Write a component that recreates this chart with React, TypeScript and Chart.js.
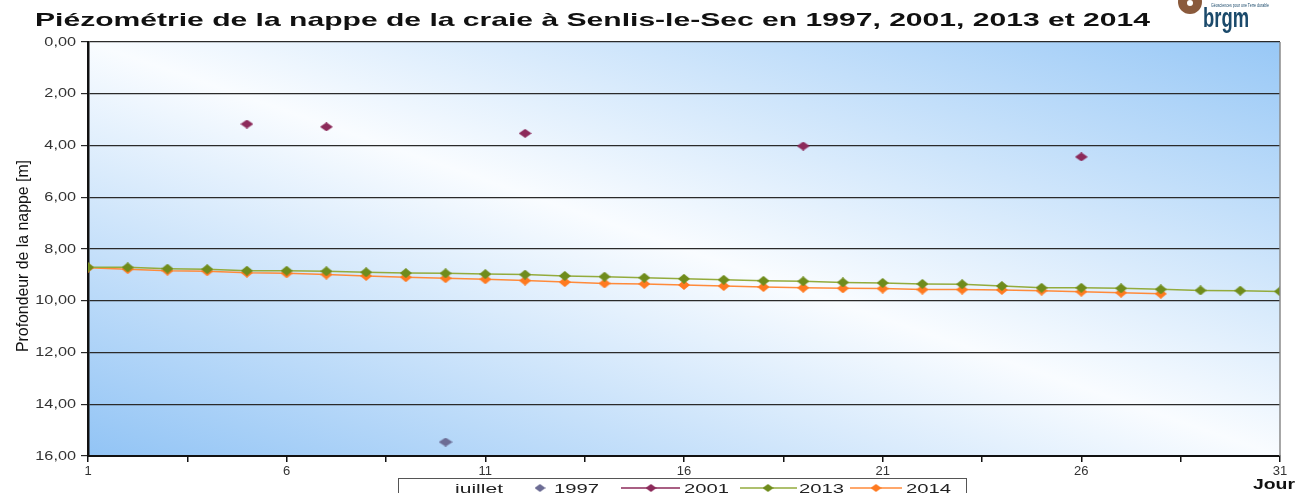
import React, { useEffect, useRef } from "react";
import { Chart, registerables } from "chart.js";

Chart.register(...registerables);

const TITLE = "Piézométrie de la nappe de la craie à Senlis-le-Sec en 1997, 2001, 2013 et 2014";
const Y_TITLE = "Profondeur de la nappe [m]";
const X_TITLE = "Jour";
const LEGEND_TITLE = "juillet";
const LOGO_TEXT = "brgm";
const LOGO_TAG = "Géosciences pour une Terre durable";

const xTickValues = [1, 3.5, 6, 8.5, 11, 13.5, 16, 18.5, 21, 23.5, 26, 28.5, 31];
const xTickLabels = ["1", "6", "11", "16", "21", "26", "31"];
const yTickValues = [0, 2, 4, 6, 8, 10, 12, 14, 16];

const days1997 = [10];
const depth1997 = [15.46];

const days2001 = [5, 7, 12, 19, 26];
const depth2001 = [3.17, 3.28, 3.53, 4.02, 4.44];

const days2013 = [1, 2, 3, 4, 5, 6, 7, 8, 9, 10, 11, 12, 13, 14, 15, 16, 17, 18, 19, 20, 21, 22, 23, 24, 25, 26, 27, 28, 29, 30, 31];
const depth2013 = [8.71, 8.71, 8.76, 8.78, 8.84, 8.84, 8.86, 8.9, 8.93, 8.94, 8.97, 8.99, 9.04, 9.07, 9.11, 9.15, 9.19, 9.23, 9.25, 9.29, 9.31, 9.35, 9.36, 9.43, 9.5, 9.5, 9.52, 9.56, 9.6, 9.61, 9.64];

const days2014 = [1, 2, 3, 4, 5, 6, 7, 8, 9, 10, 11, 12, 13, 14, 15, 16, 17, 18, 19, 20, 21, 22, 23, 24, 25, 26, 27, 28];
const depth2014 = [8.72, 8.78, 8.84, 8.86, 8.92, 8.94, 8.99, 9.04, 9.09, 9.13, 9.17, 9.22, 9.28, 9.33, 9.35, 9.39, 9.43, 9.47, 9.5, 9.52, 9.53, 9.57, 9.57, 9.58, 9.61, 9.65, 9.69, 9.73];

const seriesNames = ["1997", "2001", "2013", "2014"];
const markerColors = ["#6c6c94", "#8c2a5a", "#6f8c1c", "#ff7a20"];
const lineColors = ["#6c6c94", "#8c2a5a", "#93ab3c", "#ff8a3a"];

const FONT = '"Liberation Sans", Arial, sans-serif';

function diamond(w: number, h: number, color: string) {
  const c = document.createElement("canvas");
  c.width = w;
  c.height = h;
  const g = c.getContext("2d")!;
  g.fillStyle = color;
  g.beginPath();
  g.moveTo(w / 2, 0);
  g.lineTo(w, h / 2);
  g.lineTo(w / 2, h);
  g.lineTo(0, h / 2);
  g.closePath();
  g.fill();
  return c;
}

function pts(days: number[], vals: number[]) {
  return days.map((d, i) => ({ x: d, y: vals[i] }));
}

function fitText(ctx: CanvasRenderingContext2D, text: string, x: number, y: number, width: number, font: string, color: string) {
  ctx.save();
  ctx.font = font;
  const m = ctx.measureText(text).width;
  ctx.translate(x, y);
  ctx.scale(width / m, 1);
  ctx.fillStyle = color;
  ctx.textAlign = "left";
  ctx.textBaseline = "alphabetic";
  ctx.fillText(text, 0, 0);
  ctx.restore();
}

const bgPlugin = {
  id: "bgGradient",
  beforeDraw(chart: any) {
    const { ctx, chartArea: a } = chart;
    const w = a.right - a.left;
    const h = a.bottom - a.top;
    const cx = (a.left + a.right) / 2;
    const cy = (a.top + a.bottom) / 2;
    const len = Math.hypot(w, h);
    const nx = h / len;
    const ny = -w / len;
    const k = (w * h) / len;
    const g = ctx.createLinearGradient(cx - k * nx, cy - k * ny, cx + k * nx, cy + k * ny);
    g.addColorStop(0, "#92c4f5");
    g.addColorStop(0.5, "#f9fcff");
    g.addColorStop(1, "#98c8f6");
    ctx.save();
    ctx.fillStyle = "#ffffff";
    ctx.fillRect(0, 0, chart.width, chart.height);
    ctx.fillStyle = g;
    ctx.fillRect(a.left, a.top, w, h);
    ctx.restore();
  },
};

const decoPlugin = {
  id: "deco",
  afterDraw(chart: any) {
    const { ctx, chartArea: a, scales } = chart;
    const xs = scales.x;
    const ys = scales.y;
    ctx.save();
    // right border
    ctx.strokeStyle = "#8a8a8a";
    ctx.lineWidth = 1.5;
    ctx.beginPath();
    ctx.moveTo(a.right, a.top);
    ctx.lineTo(a.right, a.bottom);
    ctx.stroke();

    // y tick labels
    ctx.fillStyle = "#333333";
    ctx.font = `13px ${FONT}`;
    ctx.textBaseline = "middle";
    for (const v of yTickValues) {
      const t = v.toFixed(2).replace(".", ",");
      const y = ys.getPixelForValue(v);
      const w = ctx.measureText(t).width * 1.25;
      ctx.save();
      ctx.translate(a.left - 12 - w, y);
      ctx.scale(1.25, 1);
      ctx.textAlign = "left";
      ctx.fillText(t, 0, 0);
      ctx.restore();
    }
    // x tick labels
    ctx.textAlign = "center";
    ctx.textBaseline = "middle";
    for (const t of xTickLabels) {
      const x = xs.getPixelForValue(Number(t));
      ctx.fillText(t, x, a.bottom + 15);
    }

    // title
    fitText(ctx, TITLE, 35, 26, 1115, `bold 19px ${FONT}`, "#111111");

    // y title
    ctx.save();
    ctx.translate(28, 256);
    ctx.rotate(-Math.PI / 2);
    ctx.font = `17px ${FONT}`;
    const tw = ctx.measureText(Y_TITLE).width;
    const target = 192;
    ctx.scale(target / tw, 1);
    ctx.fillStyle = "#111111";
    ctx.textAlign = "center";
    ctx.textBaseline = "alphabetic";
    ctx.fillText(Y_TITLE, 0, 0);
    ctx.restore();

    // Jour
    fitText(ctx, X_TITLE, 1253, 489, 42, `bold 14px ${FONT}`, "#111111");

    // legend
    const top = 478;
    ctx.fillStyle = "#ffffff";
    ctx.fillRect(398, top, 568, 20);
    ctx.strokeStyle = "#555555";
    ctx.lineWidth = 1;
    ctx.strokeRect(398.5, top + 0.5, 568, 20);
    const ly = top + 10;
    fitText(ctx, LEGEND_TITLE, 455, ly + 5, 48, `13px ${FONT}`, "#222222");
    const items = [
      { line: false, mx: 540, x0: 0, x1: 0, tx: 554 },
      { line: true, mx: 651, x0: 621, x1: 680, tx: 684 },
      { line: true, mx: 768, x0: 740, x1: 797, tx: 799 },
      { line: true, mx: 876, x0: 850, x1: 902, tx: 906 },
    ];
    items.forEach((it, i) => {
      if (it.line) {
        ctx.strokeStyle = lineColors[i];
        ctx.lineWidth = 1.5;
        ctx.beginPath();
        ctx.moveTo(it.x0, ly);
        ctx.lineTo(it.x1, ly);
        ctx.stroke();
      }
      const d = diamond(11, 8, markerColors[i]);
      ctx.drawImage(d, it.mx - 5.5, ly - 4);
      fitText(ctx, seriesNames[i], it.tx, ly + 5, 45, `13px ${FONT}`, "#222222");
    });

    // logo
    ctx.fillStyle = "#8a5a3c";
    ctx.beginPath();
    ctx.arc(1190, 2, 12, 0, Math.PI * 2);
    ctx.fill();
    ctx.fillStyle = "#ffffff";
    ctx.beginPath();
    ctx.arc(1190, 3, 3, 0, Math.PI * 2);
    ctx.fill();
    fitText(ctx, LOGO_TEXT, 1203, 27, 46, `bold 27px ${FONT}`, "#1b4a6b");
    fitText(ctx, LOGO_TAG, 1211, 7, 58, `5px ${FONT}`, "#1b4a6b");
    ctx.restore();
  },
};

export default function App() {
  const ref = useRef<HTMLCanvasElement>(null);
  useEffect(() => {
    document.body.style.margin = "0";
    const canvas = ref.current!;
    const chart = new Chart(canvas, {
      type: "scatter",
      data: {
        datasets: [
          {
            label: seriesNames[2],
            data: pts(days2013, depth2013),
            showLine: true,
            borderColor: lineColors[2],
            borderWidth: 1.5,
            pointStyle: diamond(12, 10, markerColors[2]) as any,
            pointRadius: 5,
          },
          {
            label: seriesNames[3],
            data: pts(days2014, depth2014),
            showLine: true,
            borderColor: lineColors[3],
            borderWidth: 1.5,
            pointStyle: diamond(12, 10, markerColors[3]) as any,
            pointRadius: 5,
          },
          {
            label: seriesNames[1],
            data: pts(days2001, depth2001),
            showLine: false,
            pointStyle: diamond(13, 9, markerColors[1]) as any,
            pointRadius: 5,
          },
          {
            label: seriesNames[0],
            data: pts(days1997, depth1997),
            showLine: false,
            pointStyle: diamond(14, 9, markerColors[0]) as any,
            pointRadius: 5,
          },
        ],
      },
      options: {
        animation: false,
        responsive: true,
        maintainAspectRatio: false,
        layout: { padding: { top: 42, right: 18, left: 0, bottom: 0 } },
        plugins: {
          legend: { display: false },
          title: { display: false },
          tooltip: { enabled: false },
        },
        scales: {
          x: {
            type: "linear",
            min: 1,
            max: 31,
            afterBuildTicks: (s: any) => {
              s.ticks = xTickValues.map((v) => ({ value: v }));
            },
            afterFit: (s: any) => {
              s.height = 37;
            },
            ticks: { display: false },
            grid: {
              drawOnChartArea: false,
              drawTicks: true,
              tickLength: 6,
              color: "#111111",
              lineWidth: 1.5,
            },
            border: { display: true, color: "#111111", width: 2 },
          },
          y: {
            type: "linear",
            reverse: true,
            min: 0,
            max: 16,
            afterBuildTicks: (s: any) => {
              s.ticks = yTickValues.map((v) => ({ value: v }));
            },
            afterFit: (s: any) => {
              s.width = 88;
            },
            ticks: { display: false },
            grid: {
              drawOnChartArea: true,
              drawTicks: true,
              tickLength: 7,
              color: "#2a2a2a",
              lineWidth: 1.2,
            },
            border: { display: true, color: "#111111", width: 2.5 },
          },
        },
      },
      plugins: [bgPlugin, decoPlugin],
    });
    return () => chart.destroy();
  }, []);
  return (
    <div style={{ position: "relative", width: 1298, height: 493 }}>
      <canvas ref={ref} />
    </div>
  );
}
